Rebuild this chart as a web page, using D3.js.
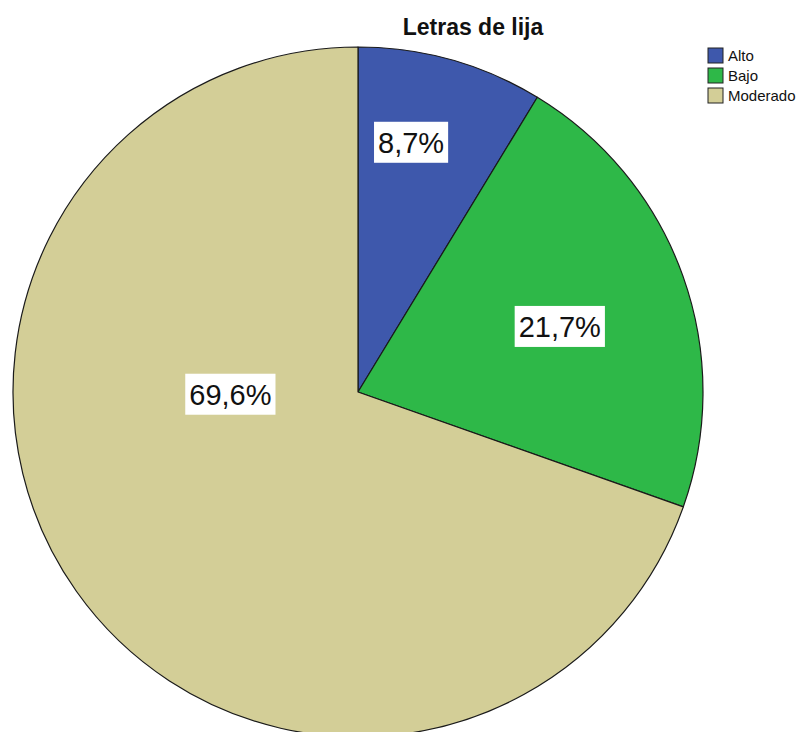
<!DOCTYPE html>
<html>
<head>
<meta charset="utf-8">
<script src="https://cdn.jsdelivr.net/npm/d3@7"></script>
<style>
  html, body { margin: 0; padding: 0; background: #fff; }
  svg { display: block; }
  text { font-family: "Liberation Sans", Arial, sans-serif; }
</style>
</head>
<body>
<script>
// Data
const categories = ["Alto", "Bajo", "Moderado"];
const percents = [8.7, 21.7, 69.6];
const labelTexts = ["8,7%", "21,7%", "69,6%"];
const title = "Letras de lija";

// Styling / layout (not data)
const colors = ["#3E58AC", "#2EB848", "#D3CE97"];
const W = 801, H = 732;
const cx = 358, cy = 392, R = 345;
// label placement: angle (deg, clockwise from top) and radial fraction
const labelPlacement = [[12, 0.74], [72, 0.615], [269, 0.37]];

const svg = d3.select("body").append("svg").attr("width", W).attr("height", H);

const pie = d3.pie().sort(null).value(d => d)
  .startAngle(0).endAngle(2 * Math.PI);
const arcs = pie(percents);
const arc = d3.arc().innerRadius(0).outerRadius(R);

const g = svg.append("g").attr("transform", `translate(${cx},${cy})`);
g.selectAll("path.slice").data(arcs).enter().append("path")
  .attr("class", "slice")
  .attr("d", arc)
  .attr("fill", (d, i) => colors[i])
  .attr("stroke", "#1a1a1a")
  .attr("stroke-width", 1.2)
  .attr("stroke-linejoin", "round");

// labels
const lg = g.selectAll("g.lab").data(arcs).enter().append("g").attr("class", "lab")
  .attr("transform", (d, i) => {
    const a = labelPlacement[i][0] * Math.PI / 180;
    const r = labelPlacement[i][1] * R;
    return `translate(${r * Math.sin(a)},${-r * Math.cos(a)})`;
  });
lg.each(function(d, i) {
  const sel = d3.select(this);
  const t = sel.append("text")
    .attr("text-anchor", "middle")
    .attr("dy", "0.36em")
    .attr("font-size", 29)
    .attr("fill", "#111")
    .text(labelTexts[i]);
  const bb = t.node().getBBox();
  sel.insert("rect", "text")
    .attr("x", bb.x - 4).attr("y", -20.5)
    .attr("width", bb.width + 8).attr("height", 41)
    .attr("fill", "#fff");
});

// title
svg.append("text")
  .attr("x", 473).attr("y", 35)
  .attr("text-anchor", "middle")
  .attr("font-size", 23)
  .attr("font-weight", "bold")
  .attr("fill", "#111")
  .text(title);

// legend
const leg = svg.append("g").attr("transform", "translate(708,48)");
const li = leg.selectAll("g").data(categories).enter().append("g")
  .attr("transform", (d, i) => `translate(0,${i * 20})`);
li.append("rect").attr("width", 15).attr("height", 15)
  .attr("fill", (d, i) => colors[i]).attr("stroke", "#222").attr("stroke-width", 1);
li.append("text").attr("x", 20).attr("y", 13)
  .attr("font-size", 15).attr("fill", "#111")
  .text(d => d);
</script>
</body>
</html>
